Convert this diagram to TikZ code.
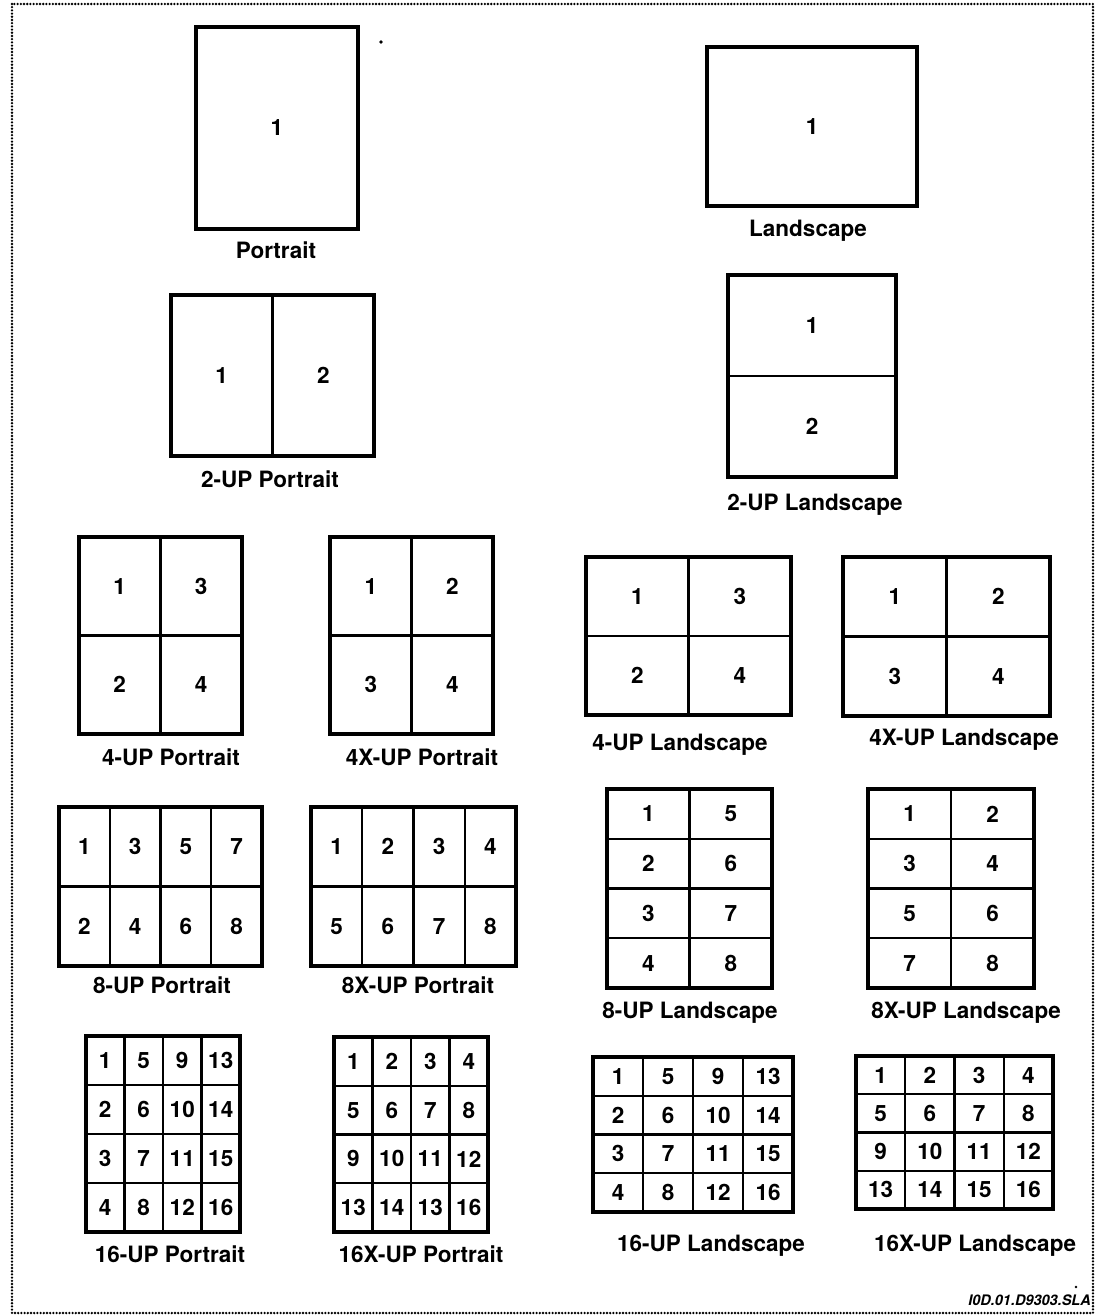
\documentclass[tikz,border=0pt]{standalone}
\usepackage{fontspec}
\setmainfont{TeX Gyre Heros}
\tikzset{
  pagebox/.style={draw, rectangle, line width=3.3pt, inner sep=0pt, outer sep=0pt},
  divider/.style={line width=2.2pt},
  num/.style={font=\fontsize{22.5}{26}\selectfont\bfseries, inner sep=0pt},
  caption/.style={font=\fontsize{22.5}{26}\selectfont\bfseries, anchor=base, inner sep=0pt},
  dotframe/.style={line width=2.6pt, dash pattern=on 0pt off 3.2pt, line cap=round},
  idtext/.style={font=\fontsize{14.5}{17}\selectfont\bfseries\itshape, anchor=base east, inner sep=0pt},
}
% #1 name, #2 x0, #3 y0, #4 x1, #5 y1, #6 cols, #7 rows, #8 numbers (row-major)
\newcommand{\pagegrid}[8]{%
  \pgfmathsetmacro\gw{(#4-#2)/#6}%
  \pgfmathsetmacro\gh{(#5-#3)/#7}%
  \pgfmathsetmacro\bw{#4-#2}%
  \pgfmathsetmacro\bh{#5-#3}%
  \node[pagebox, minimum width=\bw pt, minimum height=\bh pt] (#1) at ({(#2+#4)/2},{(#3+#5)/2}) {};
  \ifnum#6>1
    \pgfmathtruncatemacro\lastc{#6-1}%
    \foreach \k in {1,...,\lastc} {\draw[divider] ({#2+\k*\gw},#3) -- ({#2+\k*\gw},#5);}
  \fi
  \ifnum#7>1
    \pgfmathtruncatemacro\lastr{#7-1}%
    \foreach \k in {1,...,\lastr} {\draw[divider] (#2,{#3+\k*\gh}) -- (#4,{#3+\k*\gh});}
  \fi
  \foreach \n [count=\i from 0] in {#8} {
    \pgfmathtruncatemacro\cc{mod(\i,#6)}%
    \pgfmathtruncatemacro\rr{div(\i,#6)}%
    \node[num] (#1-\i) at ({#2+(\cc+0.5)*\gw},{#3+(\rr+0.5)*\gh}) {\n};
  }
}
\begin{document}
\begin{tikzpicture}[x=1pt,y=-1pt]
  \useasboundingbox (0,0) rectangle (1099,1316);
  \draw[dotframe] (12,4) rectangle (1093,1313);

  % row 1
  \pagegrid{p1}{196}{27}{358}{229}{1}{1}{1}
  \node[caption] (p1c) at (276,258) {Portrait};
  \pagegrid{l1}{707}{47}{917}{206}{1}{1}{1}
  \node[caption] (l1c) at (808,236) {Landscape};

  % row 2
  \pagegrid{p2}{171}{295}{374}{456}{2}{1}{1,2}
  \node[caption] (p2c) at (270,487) {2-UP Portrait};
  \pagegrid{l2}{728}{275}{896}{477}{1}{2}{1,2}
  \node[caption] (l2c) at (815,510) {2-UP Landscape};

  % row 3
  \pagegrid{p4}{79}{537}{242}{734}{2}{2}{1,3,2,4}
  \node[caption] (p4c) at (171,765) {4-UP Portrait};
  \pagegrid{px4}{330}{537}{493}{734}{2}{2}{1,2,3,4}
  \node[caption] (px4c) at (422,765) {4X-UP Portrait};
  \pagegrid{l4}{586}{557}{791}{715}{2}{2}{1,3,2,4}
  \node[caption] (l4c) at (680,750) {4-UP Landscape};
  \pagegrid{lx4}{843}{557}{1050}{716}{2}{2}{1,2,3,4}
  \node[caption] (lx4c) at (964,745) {4X-UP Landscape};

  % row 4
  \pagegrid{p8}{59}{807}{262}{966}{4}{2}{1,3,5,7,2,4,6,8}
  \node[caption] (p8c) at (162,993) {8-UP Portrait};
  \pagegrid{px8}{311}{807}{516}{966}{4}{2}{1,2,3,4,5,6,7,8}
  \node[caption] (px8c) at (418,993) {8X-UP Portrait};
  \pagegrid{l8}{607}{789}{772}{988}{2}{4}{1,5,2,6,3,7,4,8}
  \node[caption] (l8c) at (690,1018) {8-UP Landscape};
  \pagegrid{lx8}{868}{789}{1034}{988}{2}{4}{1,2,3,4,5,6,7,8}
  \node[caption] (lx8c) at (966,1018) {8X-UP Landscape};

  % row 5
  \pagegrid{p16}{86}{1036}{240}{1232}{4}{4}{1,5,9,13,2,6,10,14,3,7,11,15,4,8,12,16}
  \node[caption] (p16c) at (170,1262) {16-UP Portrait};
  \pagegrid{px16}{334}{1037}{488}{1232}{4}{4}{1,2,3,4,5,6,7,8,9,10,11,12,13,14,13,16}
  \node[caption] (px16c) at (421,1262) {16X-UP Portrait};
  \pagegrid{l16}{593}{1057}{793}{1212}{4}{4}{1,5,9,13,2,6,10,14,3,7,11,15,4,8,12,16}
  \node[caption] (l16c) at (711,1251) {16-UP Landscape};
  \pagegrid{lx16}{856}{1056}{1053}{1209}{4}{4}{1,2,3,4,5,6,7,8,9,10,11,12,13,14,15,16}
  \node[caption] (lx16c) at (975,1251) {16X-UP Landscape};

  % stray marks and id
  \fill (381,42) circle (1.8);
  \fill (1076,1287) circle (1.3);
  \node[idtext] (id) at (1091,1305) {I0D.01.D9303.SLA};
\end{tikzpicture}
\end{document}
